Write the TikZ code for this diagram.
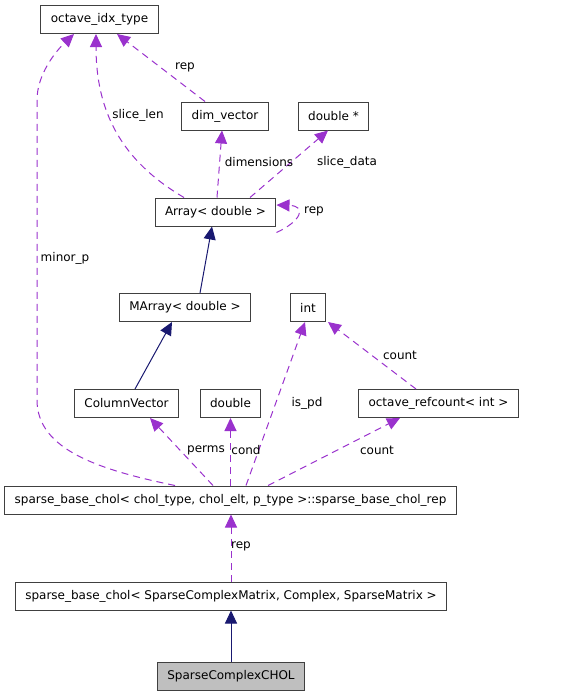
\documentclass[tikz,border=0pt]{standalone}
\usepackage{fontspec}
\setmainfont{DejaVu Sans}
\usetikzlibrary{arrows.meta}
\definecolor{orchid}{HTML}{9A32CD}
\definecolor{midnight}{HTML}{191970}

\begin{document}
\begin{tikzpicture}[x=1pt, y=-1pt,
    every node/.style={font=\fontsize{12}{14}\selectfont},
    cls/.style={draw=black!75, line width=1pt, fill=white, minimum height=28pt, inner xsep=10pt, inner ysep=0pt},
    usage/.style={draw=orchid, dash pattern=on 7pt off 5pt, line width=1pt,
        -{Triangle[length=13pt,width=12pt,fill=orchid]}},
    inherit/.style={draw=midnight, line width=1pt, -{Triangle[length=13pt,width=12pt,fill=midnight]}},
    lbl/.style={inner sep=1pt}]
    \useasboundingbox (0,0) rectangle (561,696);
    % Classes, top to bottom
    \node[cls] (idx) at (99.5,19.5) {octave\_idx\_type};
    \node[cls] (dimvec) at (225,116) {dim\_vector};
    \node[cls] (dblptr) at (333.5,116) {double *};
    \node[cls] (arr) at (215.5,212) {Array< double >};
    \node[cls] (marr) at (185,307.5) {MArray< double >};
    \node[cls] (intn) at (308,307.5) {int};
    \node[cls] (colvec) at (126.5,403.5) {ColumnVector};
    \node[cls] (dbl) at (230.5,403.5) {double};
    \node[cls] (refcnt) at (438.5,403.5) {octave\_refcount< int >};
    \node[cls] (cholrep) at (230.5,500) {sparse\_base\_chol< chol\_type, chol\_elt, p\_type >::sparse\_base\_chol\_rep};
    \node[cls] (cholbase) at (231,596) {sparse\_base\_chol< SparseComplexMatrix, Complex, SparseMatrix >};
    \node[cls, fill=black!25] (cholc) at (231,676) {SparseComplexCHOL};

    % Member links (dashed)
    \draw[usage] (cholrep.north -| 175,0) .. controls (100,470) and (37,450) .. (37,400)
        -- (37,100) .. controls (37,75) and (55,52) .. (idx.south -| 74,0);
    \draw[usage] (arr.north -| 184,0) .. controls (120,160) and (96,110) .. (idx.south -| 96,0);
    \draw[usage] (dimvec.north -| 205,0) -- (idx.south -| 117,0);
    \draw[usage] (arr.north -| 217,0) -- (dimvec.south -| 222,0);
    \draw[usage] (arr.north -| 250,0) -- (dblptr.south -| 328,0);
    \draw[usage] ([yshift=-6pt]arr.south east) .. controls (300,222) and (308,206) .. ([yshift=7pt]arr.east);
    \draw[usage] (cholrep.north -| 246,0) -- (intn.south -| 305,0);
    \draw[usage] (refcnt.north -| 416,0) -- (intn.south -| 328,0);
    \draw[usage] (cholrep.north -| 213,0) -- (colvec.south -| 150,0);
    \draw[usage] (cholrep.north -| 230.5,0) -- (dbl.south);
    \draw[usage] (cholrep.north -| 268,0) -- (refcnt.south -| 400,0);
    \draw[usage] (cholbase.north -| 231,0) -- (cholrep.south -| 231,0);

    % Inheritance links
    \draw[inherit] (marr.north -| 200,0) -- (arr.south -| 212,0);
    \draw[inherit] (colvec.north -| 135,0) -- (marr.south -| 172,0);
    \draw[inherit] (cholc.north) -- (cholbase.south -| 231,0);

    % Link labels
    \node[lbl] (lminor) at (65,258) {minor\_p};
    \node[lbl] (lslice) at (138,115) {slice\_len};
    \node[lbl] (lrep) at (185,67) {rep};
    \node[lbl] (ldim) at (259,162) {dimensions};
    \node[lbl] (ldata) at (347,162) {slice\_data};
    \node[lbl] (lself) at (314,211) {rep};
    \node[lbl] (lcount) at (400,355) {count};
    \node[lbl] (lispd) at (307,403) {is\_pd};
    \node[lbl] (lperms) at (206,450) {perms};
    \node[lbl] (lcond) at (246,450) {cond};
    \node[lbl] (lcount2) at (377,450) {count};
    \node[lbl] (lrep2) at (241,546) {rep};
\end{tikzpicture}
\end{document}
